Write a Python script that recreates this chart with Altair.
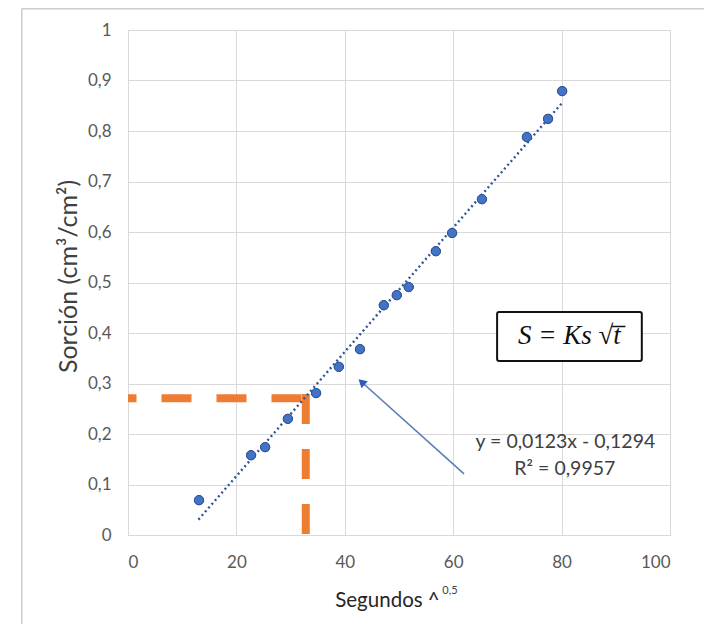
import altair as alt
import pandas as pd

# measured points (Segundos^0.5 vs Sorción)
sx = [13.1, 22.7, 25.3, 29.5, 34.7, 38.9, 42.8, 47.2, 49.6, 51.8, 56.8, 59.8, 65.3, 73.6, 77.5, 80.1]
sy = [0.069, 0.158, 0.174, 0.230, 0.281, 0.333, 0.368, 0.455, 0.475, 0.491, 0.562, 0.598, 0.665, 0.788, 0.824, 0.879]

# trend line end points (y = 0,0123x - 0,1294)
trend_x = [13.0, 80.0]
trend_y = [0.0305, 0.8546]

# orange guide lines
guide_h_x = [0.0, 33.6]
guide_h_y = [0.271, 0.271]
guide_v_x = [32.8, 32.8]
guide_v_y = [0.279, 0.0]

# arrow
arrow_x = [62.0, 43.1]
arrow_y = [0.121, 0.303]
head_x = [43.1]
head_y = [0.303]

# formula box
box_x = [68.1, 94.8]
box_y = [0.4416, 0.3446]
formula = ["S = Ks √t\u0305"]

eq_lines = ["y = 0,0123x - 0,1294", "R² = 0,9957"]
eq_x = [80.7, 80.6]
eq_y = [0.184, 0.131]

sup_text = ["0,5"]
sup_x = [59.4]
sup_y = [-0.110]

frame_left = -19.6
frame_top = 1.042

xs = alt.Scale(domain=[0, 100], nice=False, zero=False)
ys = alt.Scale(domain=[0, 1], nice=False, zero=False)

x_ticks = [0, 20, 40, 60, 80, 100]
y_ticks = [0, 0.1, 0.2, 0.3, 0.4, 0.5, 0.6, 0.7, 0.8, 0.9, 1]

xaxis = alt.Axis(values=x_ticks, title="Segundos ^", grid=True, ticks=False,
                 labelPadding=19, titleX=259, titleY=65, titleBaseline="middle",
                 titleFontSize=20.5, titleColor="#262626")
yaxis = alt.Axis(values=y_ticks, title="Sorción (cm³/cm²)", grid=True, ticks=False,
                 labelPadding=17,
                 labelExpr="replace(format(datum.value, '.1~f'), '.', ',')",
                 titleX=-60, titleY=246, titleBaseline="middle", titleFontSize=25)

pts = pd.DataFrame({"x": sx, "y": sy})

points = alt.Chart(pts).mark_point(filled=True, size=85, color="#4472C4",
                                   stroke="#2F5597", strokeWidth=1, opacity=1).encode(
    x=alt.X("x:Q", scale=xs, axis=xaxis),
    y=alt.Y("y:Q", scale=ys, axis=yaxis),
)

trend = alt.Chart(pd.DataFrame({"x": trend_x, "y": trend_y})).mark_line(
    color="#2F5597", strokeWidth=2.4, strokeDash=[2, 3]).encode(x="x:Q", y="y:Q")

gh = alt.Chart(pd.DataFrame({"x": guide_h_x, "y": guide_h_y, "o": [0, 1]})).mark_line(
    color="#ED7D31", strokeWidth=8, strokeDash=[30, 25], strokeDashOffset=21.5,
    strokeCap="butt").encode(x="x:Q", y="y:Q", order="o:Q")
gv = alt.Chart(pd.DataFrame({"x": guide_v_x, "y": guide_v_y, "o": [0, 1]})).mark_line(
    color="#ED7D31", strokeWidth=8, strokeDash=[30, 25], strokeCap="butt").encode(
    x="x:Q", y="y:Q", order="o:Q")

arrow = alt.Chart(pd.DataFrame({"x": arrow_x, "y": arrow_y, "o": [0, 1]})).mark_line(
    color="#5B7DB8", strokeWidth=1.6).encode(x="x:Q", y="y:Q", order="o:Q")
head = alt.Chart(pd.DataFrame({"x": head_x, "y": head_y})).mark_point(
    shape="triangle-up", filled=True, size=90, angle=312, color="#2E5BB8", opacity=1).encode(
    x="x:Q", y="y:Q")

box = alt.Chart(pd.DataFrame({"x": [box_x[0]], "x2": [box_x[1]], "y": [box_y[0]], "y2": [box_y[1]]})).mark_rect(
    fill="white", stroke="#111111", strokeWidth=2, cornerRadius=2).encode(
    x="x:Q", x2="x2:Q", y="y:Q", y2="y2:Q")
box_text = alt.Chart(pd.DataFrame({"t": formula, "x": [(box_x[0] + box_x[1]) / 2],
                                   "y": [(box_y[0] + box_y[1]) / 2]})).mark_text(
    font="Liberation Serif", fontStyle="italic", fontSize=27, color="#111111",
    baseline="middle", align="center").encode(x="x:Q", y="y:Q", text="t:N")

eq = alt.Chart(pd.DataFrame({"t": eq_lines, "x": eq_x, "y": eq_y})).mark_text(
    font="Lato", fontSize=19.5, color="#404040", baseline="middle", align="center").encode(
    x="x:Q", y="y:Q", text="t:N")

sup = alt.Chart(pd.DataFrame({"t": sup_text, "x": sup_x, "y": sup_y})).mark_text(
    font="Lato", fontSize=11, color="#404040", baseline="middle", align="center").encode(
    x="x:Q", y="y:Q", text="t:N")

frame_top_rule = alt.Chart(pd.DataFrame({"x": [frame_left], "x2": [120.0], "y": [frame_top]})).mark_rule(
    color="#cccccc", strokeWidth=1.5).encode(x="x:Q", x2="x2:Q", y="y:Q")
frame_left_rule = alt.Chart(pd.DataFrame({"x": [frame_left], "y": [frame_top], "y2": [-0.3]})).mark_rule(
    color="#cccccc", strokeWidth=1.5).encode(x="x:Q", y="y:Q", y2="y2:Q")

chart = alt.layer(
    points, frame_top_rule, frame_left_rule, gh, gv, trend, points, arrow, head, box, box_text, eq, sup
).properties(
    width=542, height=505,
    autosize=alt.AutoSizeParams(type="none"),
    padding={"left": 120, "top": 22, "right": 34, "bottom": 89},
    background="white",
).configure_view(stroke="#d9d9d9", strokeWidth=1).configure_axis(
    labelFont="Lato", labelFontSize=17, labelColor="#595959",
    titleFont="Lato", titleFontSize=16, titleColor="#404040", titleFontWeight="normal",
    gridColor="#d9d9d9", gridWidth=1, domainColor="#d9d9d9",
)

chart.save("out.html", embed_options={"renderer": "svg", "actions": False})
